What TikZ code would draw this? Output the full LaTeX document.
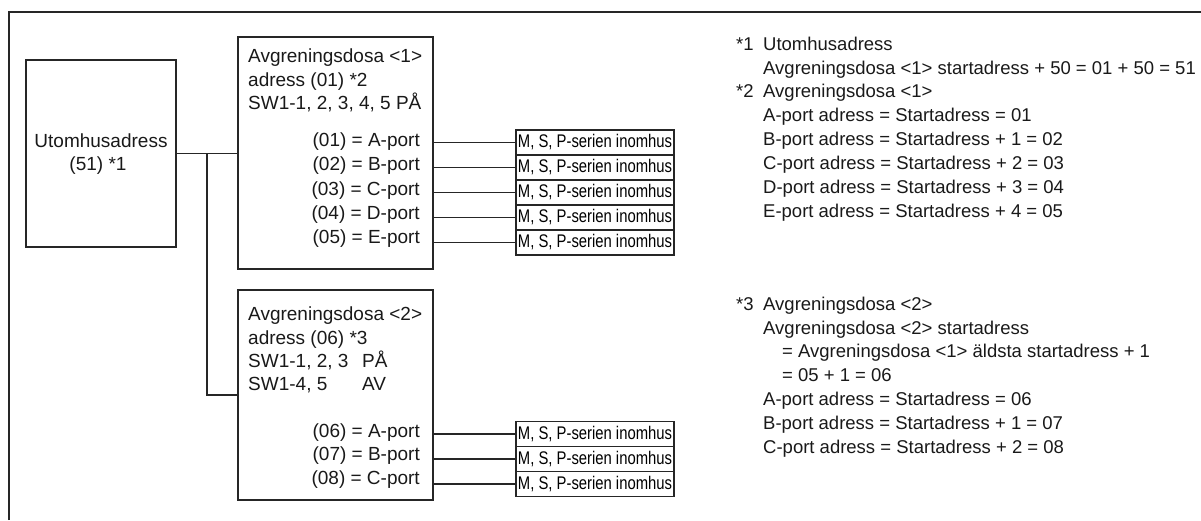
\documentclass[tikz,border=0pt]{standalone}
\usepackage{fontspec}
\setmainfont{Liberation Sans}
\newfontfamily\narrowfont[FakeStretch=0.81]{Liberation Sans}
\newcommand{\mainsize}{\fontsize{19}{22}\selectfont}
\newcommand{\notesize}{\fontsize{18.5}{22}\selectfont}
\newcommand{\indsize}{\fontsize{18.3}{22}\selectfont}
\begin{document}
\begin{tikzpicture}[x=1pt,y=-1pt,
  ln/.style={draw=black!85, line width=1.2pt},
  box/.style={ln, rectangle, inner sep=0pt},
  indoor/.style={box, minimum width=158pt, minimum height=25pt, font=\indsize\narrowfont},
  tl/.style={inner sep=0pt, anchor=base west, font=\mainsize, text=black!90},
  tr/.style={inner sep=0pt, anchor=base east, font=\mainsize, text=black!90},
  tc/.style={inner sep=0pt, anchor=base, font=\mainsize, text=black!90},
  nt/.style={tl, font=\notesize}]
\useasboundingbox (0,0) rectangle (1201,520);
% outer frame (top and left edges)
\coordinate (f0) at (9,520);
\coordinate (f1) at (9,12);
\coordinate (f2) at (1201,12);
\draw[ln] (f0) -- (f1) -- (f2);
% outdoor unit
\node[box, minimum width=150pt, minimum height=187pt] (u) at (101,153.5) {};
\node[tc] (ut1) at (101,147.5) {Utomhusadress};
\node[tc] (ut2) at (98,170) {(51) *1};
% branch boxes
\node[box, minimum width=195pt, minimum height=232pt] (b1) at (335.5,153) {};
\node[box, minimum width=195pt, minimum height=210pt] (b2) at (335.5,395) {};
% box 1 texts
\node[tl] (b1h1) at (248,62.5) {Avgreningsdosa <1>};
\node[tl] (b1h2) at (248,86) {adress (01) *2};
\node[tl] (b1h3) at (248,109.5) {SW1-1, 2, 3, 4, 5 PÅ};
\node[tr] (b1p1) at (420,146.5) {(01) = A-port};
\node[tr] (b1p2) at (420,170.5) {(02) = B-port};
\node[tr] (b1p3) at (420,195) {(03) = C-port};
\node[tr] (b1p4) at (420,219) {(04) = D-port};
\node[tr] (b1p5) at (420,243) {(05) = E-port};
% box 2 texts
\node[tl] (b2h1) at (248,320.7) {Avgreningsdosa <2>};
\node[tl] (b2h2) at (248,344) {adress (06) *3};
\node[tl] (b2h3) at (248,367.3) {SW1-1, 2, 3};
\node[tl] (b2h3b) at (362,367.3) {PÅ};
\node[tl] (b2h4) at (248,390.7) {SW1-4, 5};
\node[tl] (b2h4b) at (362,390.7) {AV};
\node[tr] (b2p1) at (420,437.7) {(06) = A-port};
\node[tr] (b2p2) at (420,460.7) {(07) = B-port};
\node[tr] (b2p3) at (420,484.3) {(08) = C-port};
% indoor units
\node[indoor] (i1) at (595,142.5) {M, S, P-serien inomhus};
\node[indoor] (i2) at (595,167.5) {M, S, P-serien inomhus};
\node[indoor] (i3) at (595,192.5) {M, S, P-serien inomhus};
\node[indoor] (i4) at (595,217.5) {M, S, P-serien inomhus};
\node[indoor] (i5) at (595,242.5) {M, S, P-serien inomhus};
\node[indoor] (i6) at (595,434) {M, S, P-serien inomhus};
\node[indoor] (i7) at (595,459) {M, S, P-serien inomhus};
\node[indoor] (i8) at (595,484) {M, S, P-serien inomhus};
% connectors
\coordinate (j) at (207,153.5);
\coordinate (k) at (207,395);
\draw[ln] (u.east) -- (u.east -| b1.west);
\draw[ln] (j) -- (k) -- (k -| b2.west);
\foreach \i in {1,...,5} \draw[ln] (i\i.west -| b1.east) -- (i\i.west);
\foreach \i in {6,7,8} \draw[ln] (i\i.west -| b2.east) -- (i\i.west);
% notes
\node[nt] (n1) at (736,50) {*1};
\node[nt] (n1a) at (763,50) {Utomhusadress};
\node[nt] (n1b) at (763,74) {Avgreningsdosa <1> startadress + 50 = 01 + 50 = 51};
\node[nt] (n2) at (736,97.7) {*2};
\node[nt] (n2a) at (763,97.7) {Avgreningsdosa <1>};
\node[nt] (n2b) at (763,121.7) {A-port adress = Startadress = 01};
\node[nt] (n2c) at (763,145.7) {B-port adress = Startadress + 1 = 02};
\node[nt] (n2d) at (763,169.5) {C-port adress = Startadress + 2 = 03};
\node[nt] (n2e) at (763,193.3) {D-port adress = Startadress + 3 = 04};
\node[nt] (n2f) at (763,217.3) {E-port adress = Startadress + 4 = 05};
\node[nt] (n3) at (736,310) {*3};
\node[nt] (n3a) at (763,310) {Avgreningsdosa <2>};
\node[nt] (n3b) at (763,334) {Avgreningsdosa <2> startadress};
\node[nt] (n3c) at (782,357.7) {= Avgreningsdosa <1> äldsta startadress + 1};
\node[nt] (n3d) at (782,381.7) {= 05 + 1 = 06};
\node[nt] (n3e) at (763,405.7) {A-port adress = Startadress = 06};
\node[nt] (n3f) at (763,429.3) {B-port adress = Startadress + 1 = 07};
\node[nt] (n3g) at (763,453) {C-port adress = Startadress + 2 = 08};
\end{tikzpicture}
\end{document}
